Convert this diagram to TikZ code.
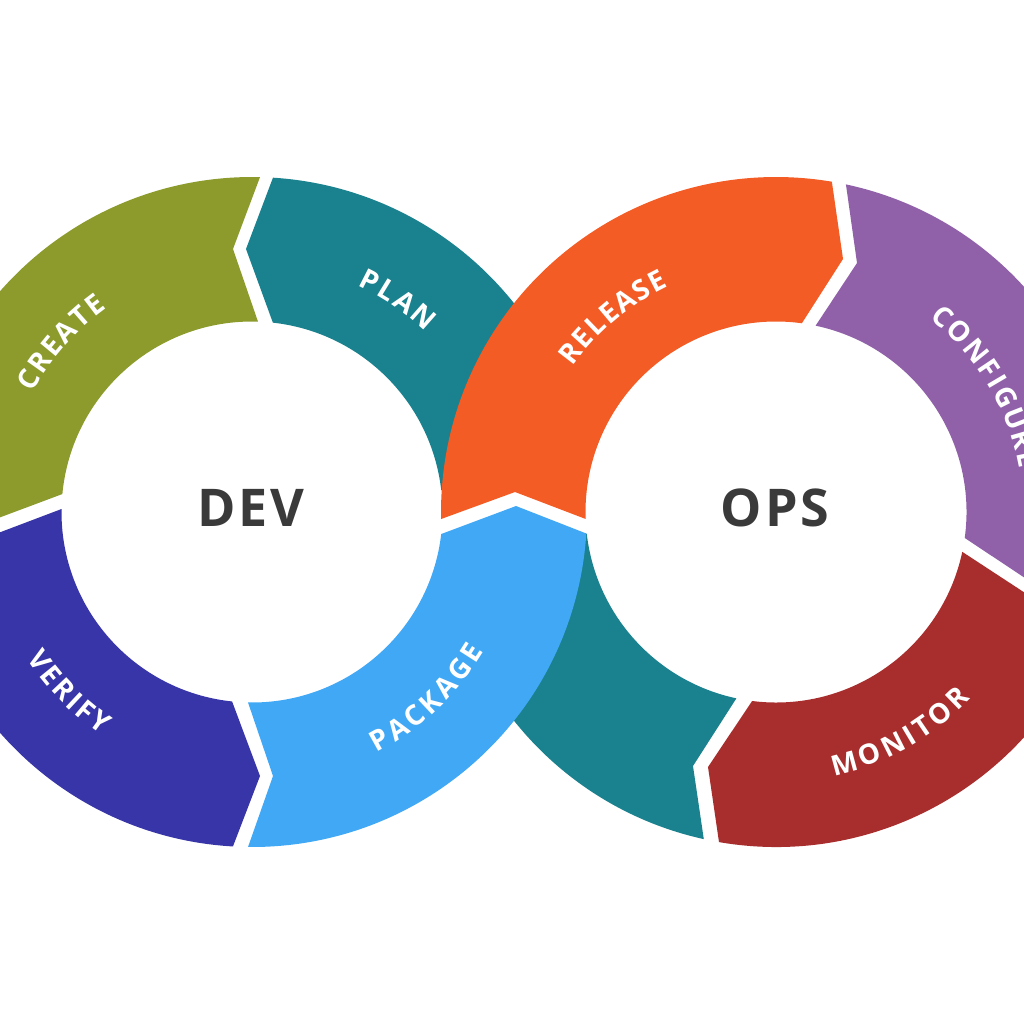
\documentclass[tikz,border=0pt]{standalone}
\usepackage{fontspec}
\setmainfont{Open Sans}
\newfontfamily\hub[LetterSpace=6]{Open Sans}
\usetikzlibrary{calc,decorations.text}
\definecolor{cOlive}{HTML}{8C9B2C}
\definecolor{cTeal}{HTML}{1A818E}
\definecolor{cOrange}{HTML}{F45C25}
\definecolor{cPurple}{HTML}{9061A9}
\definecolor{cRed}{HTML}{A82E2E}
\definecolor{cBlue}{HTML}{41A8F5}
\definecolor{cIndigo}{HTML}{3735A7}
\definecolor{cInk}{HTML}{3A3A3A}
% arc about a centre: centre, from angle, to angle, radius (screen angles, y runs down)
\newcommand\ringarc[4]{($(#1)+(#2:#4)$) arc[start angle=#2,end angle=#3,radius=#4]}
\newcommand\ringlabel[5]{\path[decorate,decoration={text along path,
   text={|\fontsize{28}{28}\selectfont\bfseries\color{white}|#5},text align=fit to path}]
   \ringarc{#1}{#2}{#3}{#4};}
\tikzset{hubtext/.style={text=cInk,font=\fontsize{52}{52}\selectfont\hub\bfseries,inner sep=0pt,anchor=center}}
\begin{document}
\begin{tikzpicture}[x=1pt,y=-1pt]
\useasboundingbox (0,0) rectangle (1024,1024);
\clip (0,0) rectangle (1024,1024);
\coordinate (L) at (252,512);
\coordinate (R) at (776,512);
% PLAN and the lower teal band pass beneath
\fill[cTeal] \ringarc{L}{-86.41}{-3.77}{335} -- \ringarc{L}{-6.63}{-83.71}{190.5} -- (246,249) -- cycle;
\fill[cTeal] \ringarc{R}{102.45}{176.2}{335} -- \ringarc{R}{173.37}{102}{190.5} -- (693,766) -- cycle;
% CREATE
\fill[cOlive] \ringarc{L}{185.41}{271.8}{190.5} -- (233,249) -- \ringarc{L}{271.37}{178}{335} -- (-15,523) -- cycle;
% VERIFY
\fill[cIndigo] \ringarc{L}{180.9}{96}{190.5} -- (260,776) -- \ringarc{L}{93.26}{180}{335} -- (-15,538) -- cycle;
% PACKAGE
\fill[cBlue] \ringarc{L}{91.2}{6.64}{190.5} -- (516,506) -- (585,533) -- \ringarc{L}{3.6}{90.68}{335} -- (273,776) -- cycle;
% RELEASE
\fill[cOrange] \ringarc{R}{178.8}{279.6}{335} -- (843,259) -- \ringarc{R}{277.8}{177.9}{190.5} -- (515,492) -- cycle;
% CONFIGURE
\fill[cPurple] \ringarc{R}{282.05}{365}{335} -- (1043,590) -- \ringarc{R}{367.83}{282}{190.5} -- (857,263) -- cycle;
% MONITOR
\fill[cRed] \ringarc{R}{99.8}{12}{335} -- (1045,606) -- \ringarc{R}{12.07}{97.2}{190.5} -- (708,767) -- cycle;
% labels
\ringlabel{L}{208.5}{234.5}{250}{CREATE}
\ringlabel{L}{295}{314}{250}{PLAN}
\ringlabel{L}{147}{124}{269}{VERIFY}
\ringlabel{L}{62.6}{31}{271}{PACKAGE}
\ringlabel{R}{215.5}{244.6}{250}{RELEASE}
\ringlabel{R}{308.3}{350}{247}{CONFIGURE}
\ringlabel{R}{77.6}{43.8}{270}{MONITOR}
\node[hubtext] (dev) at (251,508) {DEV};
\node[hubtext] (ops) at (775,508) {OPS};
\end{tikzpicture}
\end{document}
